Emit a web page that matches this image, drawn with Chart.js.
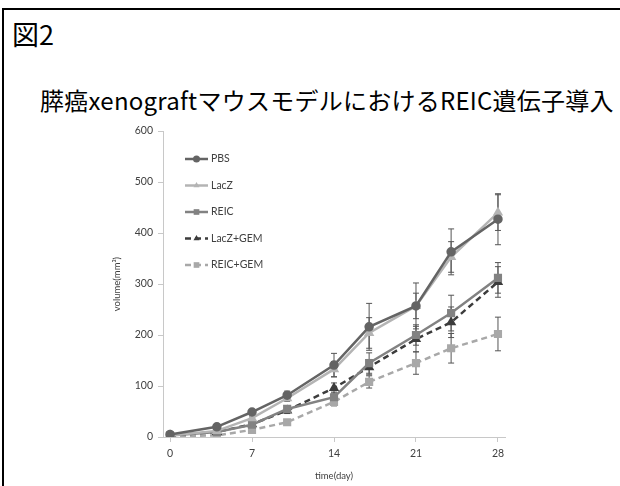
<!DOCTYPE html>
<html>
<head>
<meta charset="utf-8">
<script src="https://cdn.jsdelivr.net/npm/chart.js@4/dist/chart.umd.min.js"></script>
<style>
    html, body { margin: 0; padding: 0; background: #ffffff; }
    #wrap { position: relative; width: 620px; height: 486px; overflow: hidden; }
    #frameTop { position: absolute; left: 2px; top: 8px; width: 620px; height: 2px; background: #000; }
    #frameLeft { position: absolute; left: 2px; top: 8px; width: 2px; height: 480px; background: #000; }
    #fig { position: absolute; left: 12px; top: 14px; font: 27px "Noto Sans CJK JP", sans-serif; color: #000; }
    #title { position: absolute; left: 0; width: 654px; top: 82px; text-align: center; font: 24px "Noto Sans CJK JP", sans-serif; color: #000; letter-spacing: 0.25px; }
    canvas { position: absolute; left: 0; top: 0; }
</style>
</head>
<body>
<div id="wrap">
    <div id="frameTop"></div>
    <div id="frameLeft"></div>
    <div id="fig">図2</div>
    <div id="title">膵癌xenograftマウスモデルにおけるREIC遺伝子導入</div>
    <canvas id="tumor" width="620" height="486"></canvas>
</div>
<script>
//Measurement days
const days = [0, 4, 7, 10, 14, 17, 21, 24, 28];
const xTicks = [0, 7, 14, 21, 28];

//Tumor volume (mm3) per group, with error bar sizes
const pbs = [5, 20, 49, 82, 141, 216, 257, 363, 427];
const pbsErr = [2, 3, 5, 8, 23, 46, 45, 45, 50];
const lacz = [3, 12, 37, 76, 133, 204, 257, 353, 440];
const laczErr = [1, 3, 4, 6, 15, 30, 25, 30, 35];
const reic = [3, 10, 24, 55, 78, 145, 200, 243, 312];
const reicErr = [1, 2, 4, 6, 10, 20, 20, 35, 30];
const laczGem = [3, 10, 25, 52, 96, 137, 192, 225, 304];
const laczGemErr = [1, 2, 4, 6, 10, 15, 25, 30, 30];
const reicGem = [2, 3, 14, 29, 69, 108, 145, 174, 202];
const reicGemErr = [1, 1, 3, 4, 8, 12, 22, 29, 33];

function series(label, vals, errs, color, shape, dashed){
    return {
        label: label,
        data: days.map((d, i) => ({x: d, y: vals[i]})),
        errors: errs,
        borderColor: color,
        backgroundColor: color,
        pointBackgroundColor: color,
        pointBorderColor: color,
        pointStyle: shape,
        pointRadius: shape === "rect" ? 4 : 3.5,
        borderWidth: 2.5,
        borderDash: dashed ? [6, 4] : [],
        tension: 0,
        fill: false,
    };
}

const datasets = [
    series("PBS", pbs, pbsErr, "#646464", "circle", false),
    series("LacZ", lacz, laczErr, "#b4b4b4", "triangle", false),
    series("REIC", reic, reicErr, "#828282", "rect", false),
    series("LacZ+GEM", laczGem, laczGemErr, "#3c3c3c", "triangle", true),
    series("REIC+GEM", reicGem, reicGemErr, "#a8a8a8", "rect", true),
];

//Error bars drawn from the scales
const errorBars = {
    id: "errorBars",
    beforeDatasetsDraw(chart){
        let ctx = chart.ctx, xs = chart.scales.x, ys = chart.scales.y;
        ctx.save();
        ctx.strokeStyle = "#555555";
        ctx.lineWidth = 1;
        chart.data.datasets.forEach(ds => {
            ds.data.forEach((p, i) => {
                let e = ds.errors[i];
                let x = xs.getPixelForValue(p.x),
                    top = ys.getPixelForValue(p.y + e),
                    bot = ys.getPixelForValue(Math.max(p.y - e, 0));
                ctx.beginPath();
                ctx.moveTo(x, top); ctx.lineTo(x, bot);
                ctx.moveTo(x - 3, top); ctx.lineTo(x + 3, top);
                ctx.moveTo(x - 3, bot); ctx.lineTo(x + 3, bot);
                ctx.stroke();
            });
        });
        ctx.restore();
    }
};

//Legend drawn inside the plot, top left
const innerLegend = {
    id: "innerLegend",
    afterDraw(chart){
        let ctx = chart.ctx;
        ctx.save();
        ctx.font = "10.5px Lato, sans-serif";
        ctx.textBaseline = "middle";
        chart.data.datasets.forEach((ds, i) => {
            let y = 159 + i * 26.5, x0 = 185, x1 = 208, xm = 196.5;
            ctx.strokeStyle = ds.borderColor;
            ctx.lineWidth = 2.5;
            ctx.setLineDash(ds.borderDash);
            ctx.beginPath();
            ctx.moveTo(x0, y); ctx.lineTo(x1, y);
            ctx.stroke();
            ctx.setLineDash([]);
            ctx.fillStyle = ds.borderColor;
            Chart.helpers.drawPoint(ctx, {pointStyle: ds.pointStyle, radius: ds.pointRadius, borderWidth: 0}, xm, y);
            ctx.fillStyle = "#404040";
            ctx.fillText(ds.label, 211, y);
        });
        ctx.restore();
    }
};

new Chart("tumor", {
    type: "line",
    data: { datasets: datasets },
    plugins: [errorBars, innerLegend],
    options: {
        responsive: false,
        animation: false,
        layout: { padding: { left: 109, right: 115, top: 131, bottom: 2 } },
        plugins: {
            legend: { display: false },
            tooltip: { enabled: false },
        },
        scales: {
            x: {
                type: "linear",
                min: -0.6,
                max: 28.6,
                afterBuildTicks: s => { s.ticks = xTicks.map(v => ({value: v})); },
                afterFit: s => { s.height = 47; },
                grid: { drawOnChartArea: false, tickLength: 5, color: "#c8c8c8" },
                border: { color: "#c8c8c8" },
                ticks: { color: "#404040", font: { family: "Lato", size: 10.5 }, padding: 5, maxRotation: 0 },
                title: { display: true, text: "time(day)", color: "#404040", font: { family: "Lato", size: 9.5 }, padding: { top: 2, bottom: 2 } },
            },
            y: {
                min: 0,
                max: 600,
                afterFit: s => { s.width = 54; },
                grid: { drawOnChartArea: false, tickLength: 5, color: "#c8c8c8" },
                border: { color: "#c8c8c8" },
                ticks: { stepSize: 100, color: "#404040", font: { family: "Lato", size: 10.5 }, padding: 5 },
                title: { display: true, text: "volume(mm³)", color: "#404040", font: { family: "Lato", size: 9.5 }, padding: 2 },
            },
        },
    },
});
</script>
</body>
</html>
